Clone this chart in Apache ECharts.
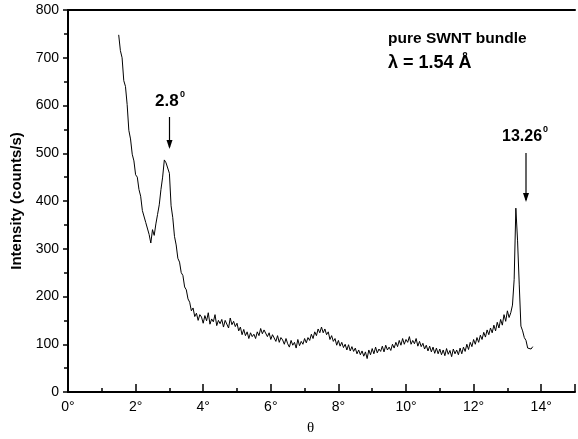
<!DOCTYPE html>
<html>
<head>
<meta charset="utf-8">
<script src="https://cdn.jsdelivr.net/npm/echarts@6/dist/echarts.min.js"></script>
<style>html,body{margin:0;padding:0;background:#fff}#c{width:578px;height:439px}</style>
</head>
<body>
<div id="c"></div>
<script>
// Scan grid (degrees): start and step of the recorded theta values
const scanStart = 1.50;
const scanStep = 0.05;
// Intensity (counts/s), one value per scan step (1.50 .. 13.75)
const intensity = [
  748,715,700,652,640,602,548,530,498,484,455,450,424,410,380,376,355,356,330,312,
  340,328,352,372,392,424,450,486,480,482,458,390,365,326,308,280,272,250,244,220,
  214,195,188,170,176,158,165,150,162,157,144,160,149,166,142,153,147,162,139,150,
  143,152,136,150,146,134,155,141,148,137,144,128,136,120,131,118,126,112,124,116,
  121,112,126,118,133,122,130,128,116,124,110,120,117,106,118,104,114,109,100,112,
  101,94,108,98,104,92,110,97,106,100,112,103,114,108,121,112,126,118,132,124,
  136,124,132,120,126,110,118,106,112,98,108,96,104,93,100,88,99,86,95,85,
  92,80,88,78,86,75,84,70,88,78,91,80,94,82,90,85,96,84,98,88,
  94,87,100,92,104,95,108,98,112,100,110,104,116,100,108,101,112,96,106,95,
  102,90,98,86,96,84,94,81,92,80,90,78,88,76,91,79,87,74,90,80,
  88,78,92,80,94,85,100,89,104,95,110,100,114,104,119,110,125,115,130,120,
  134,124,140,128,146,134,152,140,162,148,170,156,166,182,236,385,318,226,138,128,
  114,108,92,96,90,95
];
const xTicks = [0,2,4,6,8,10,12,14];
const yTicks = [0,100,200,300,400,500,600,700,800];

const points = intensity.map((v, i) => [+(scanStart + i * scanStep).toFixed(2), v]);

const chart = echarts.init(document.getElementById('c'), null, {renderer: 'canvas'});
const font = 'Liberation Sans, Arial, sans-serif';
chart.setOption({
  animation: false,
  backgroundColor: '#fff',
  grid: {left: 68, top: 10, width: 514, height: 382, containLabel: false},
  xAxis: [
    { type: 'value', min: 0, max: 15, interval: 1, position: 'bottom',
      axisLine: {show: true, lineStyle: {color: '#000', width: 2}},
      axisTick: {show: true, inside: true, length: 4, lineStyle: {color: '#000', width: 1.5}},
      axisLabel: {show: false}, splitLine: {show: false} },
    { type: 'value', min: 0, max: 15, interval: 2, position: 'bottom',
      axisLine: {show: false},
      axisTick: {show: true, inside: true, length: 8, lineStyle: {color: '#000', width: 1.5}},
      axisLabel: {show: true, margin: 8, color: '#000', fontSize: 14, fontFamily: font,
        formatter: v => (xTicks.indexOf(v) >= 0 ? v + '°' : '')},
      splitLine: {show: false} },
    { type: 'value', min: 0, max: 15, position: 'top',
      axisLine: {show: true, lineStyle: {color: '#000', width: 2}},
      axisTick: {show: false}, axisLabel: {show: false}, splitLine: {show: false} }
  ],
  yAxis: {
    type: 'value', min: 0, max: 800, interval: 100,
    name: 'Intensity (counts/s)', nameLocation: 'middle', nameRotate: 90, nameGap: 43,
    nameTextStyle: {color: '#000', fontSize: 15, fontWeight: 'bold', fontFamily: font},
    axisLine: {show: true, lineStyle: {color: '#000', width: 2}},
    axisTick: {show: true, inside: false, length: 5, lineStyle: {color: '#000', width: 1.5}},
    minorTick: {show: true, splitNumber: 2, length: 4, lineStyle: {color: '#000', width: 1.5}},
    axisLabel: {margin: 9, color: '#000', fontSize: 14, fontFamily: font,
      formatter: v => (yTicks.indexOf(v) >= 0 ? String(v) : '')},
    splitLine: {show: false}
  },
  series: [{
    type: 'line', xAxisIndex: 0, data: points, showSymbol: false, symbol: 'none',
    lineStyle: {color: '#000', width: 1}, clip: true
  }],
  graphic: [
    {type: 'text', left: 307, top: 421, style: {text: 'θ', font: '15px "Liberation Serif", serif', fill: '#000'}},
    {type: 'text', left: 388, top: 31, style: {text: 'pure SWNT bundle', font: 'bold 15.5px ' + font, fill: '#000'}},
    {type: 'text', left: 388, top: 54, style: {text: 'λ = 1.54 Å', font: 'bold 18px ' + font, fill: '#000'}},
    {type: 'text', left: 155, top: 93, style: {text: '2.8', font: 'bold 17px ' + font, fill: '#000'}},
    {type: 'text', left: 180, top: 90, style: {text: '0', font: 'bold 9px ' + font, fill: '#000'}},
    {type: 'line', shape: {x1: 169.5, y1: 117, x2: 169.5, y2: 147}, style: {stroke: '#000', lineWidth: 1.2}},
    {type: 'polygon', shape: {points: [[166.5, 140], [172.5, 140], [169.5, 149]]}, style: {fill: '#000'}},
    {type: 'text', left: 502, top: 129, style: {text: '13.26', font: 'bold 16px ' + font, fill: '#000'}},
    {type: 'text', left: 543, top: 125, style: {text: '0', font: 'bold 9px ' + font, fill: '#000'}},
    {type: 'line', shape: {x1: 526, y1: 153, x2: 526, y2: 200}, style: {stroke: '#000', lineWidth: 1.2}},
    {type: 'polygon', shape: {points: [[523, 193], [529, 193], [526, 202]]}, style: {fill: '#000'}}
  ]
});
</script>
</body>
</html>
